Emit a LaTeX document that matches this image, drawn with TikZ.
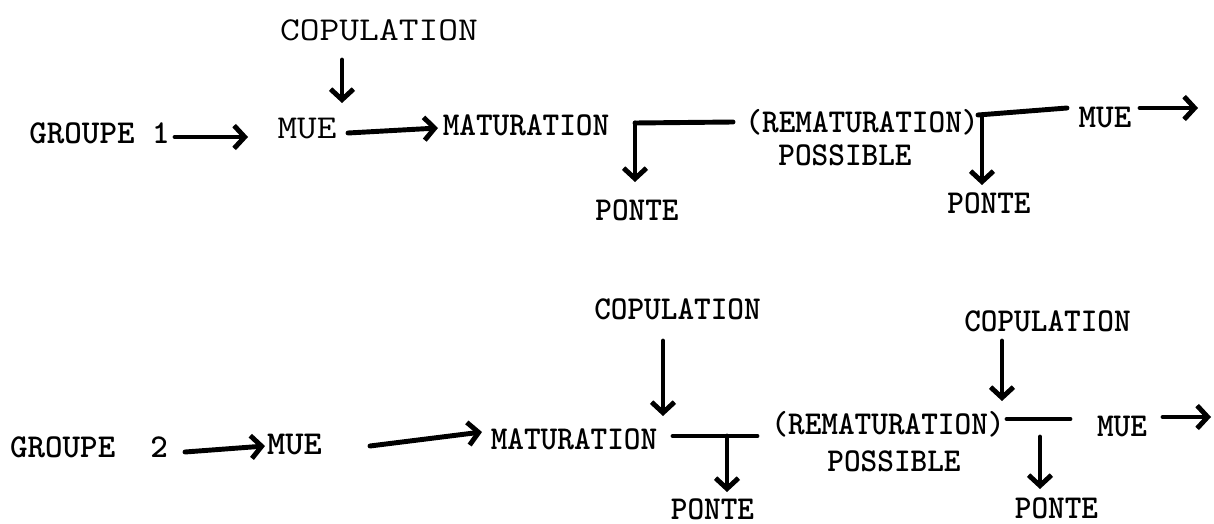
\documentclass[tikz,border=0pt]{standalone}
\usepackage{graphicx}
\usetikzlibrary{arrows.meta}
\newcommand{\tx}[2][0.95]{\scalebox{#1}[1]{#2}}
\begin{document}
\begin{tikzpicture}[x=0.02cm,y=-0.02cm,
  lab/.style={anchor=base,inner sep=0pt,font=\ttfamily\bfseries\fontsize{19}{20}\selectfont},
  labl/.style={lab,font=\ttfamily\fontsize{19}{20}\selectfont},
  arr/.style={line width=2.8pt,line cap=round,-{Straight Barb[length=6pt,width=13pt]}},
  ln/.style={line width=2.8pt,line cap=round,line join=round}]
\useasboundingbox (0,0) rectangle (1214,524);
% ---- row 1 ----
\node[labl] (cop1) at (379,40) {\tx[1.15]{COPULATION}};
\node[lab] (g1) at (99.5,143) {\tx[1.0]{GROUPE 1}};
\node[labl] (mue1) at (307,138) {\tx[1.14]{MUE}};
\node[lab] (mat1) at (526,135) {\tx{MATURATION}};
\node[lab] (rem1) at (862,132) {\tx{(REMATURATION)}};
\node[lab] (pos1) at (845,165) {\tx{POSSIBLE}};
\node[lab] (pon1a) at (637,220) {\tx{PONTE}};
\node[lab] (pon1b) at (989,213) {\tx{PONTE}};
\node[lab] (mue1b) at (1105,127) {\tx[1.0]{MUE}};
% ---- row 2 ----
\node[lab] (g2) at (89,457) {\tx[1.0]{GROUPE~~2}};
\node[lab] (mue2) at (294.5,454) {\tx[1.04]{MUE}};
\node[lab] (mat2) at (574,449) {\tx{MATURATION}};
\node[lab] (cop2a) at (677.5,319) {\tx{COPULATION}};
\node[lab] (rem2) at (888,434) {\tx{(REMATURATION)}};
\node[lab] (pos2) at (894,471) {\tx{POSSIBLE}};
\node[lab] (cop2b) at (1047.5,331) {\tx{COPULATION}};
\node[lab] (pon2a) at (712.5,519) {\tx{PONTE}};
\node[lab] (pon2b) at (1056.5,518) {\tx{PONTE}};
\node[lab] (mue2b) at (1122,436) {\tx{MUE}};
% ---- connector ends ----
\coordinate (g1o) at (175,137);   \coordinate (mue1i) at (248,137);
\coordinate (cop1o) at (342,60);  \coordinate (mue1t) at (342,103);
\coordinate (mue1o) at (348,133); \coordinate (mat1i) at (438,128);
\coordinate (rem1l) at (733,122); \coordinate (j1) at (635,123); \coordinate (pon1at) at (635,182);
\coordinate (rem1r) at (978,115); \coordinate (mue1bl) at (1067,108);
\coordinate (j2) at (982,116); \coordinate (pon1bt) at (982,185);
\coordinate (mue1bo) at (1140,108); \coordinate (end1) at (1198,108);
\coordinate (g2o) at (185,452);   \coordinate (mue2i) at (265,446);
\coordinate (mue2o) at (370,446); \coordinate (mat2i) at (482,432);
\coordinate (cop2ao) at (663,341); \coordinate (mat2t) at (663,416);
\coordinate (mat2r) at (673,436); \coordinate (rem2l) at (757,436);
\coordinate (j3) at (727,436); \coordinate (pon2at) at (727,492);
\coordinate (cop2bo) at (1002,341); \coordinate (rem2t) at (1002,401);
\coordinate (rem2r) at (1007,419); \coordinate (mue2bl) at (1070,419);
\coordinate (j4) at (1040,437); \coordinate (pon2bt) at (1040,489);
\coordinate (mue2bo) at (1163,417); \coordinate (end2) at (1211,417);
% ---- connectors row 1 ----
\draw[arr] (g1o) -- (mue1i);
\draw[arr] (cop1o) -- (mue1t);
\draw[arr] (mue1o) -- (mat1i);
\draw[ln] (rem1l) -- (j1);
\draw[arr] (j1) -- (pon1at);
\draw[ln] (rem1r) -- (mue1bl);
\draw[arr] (j2) -- (pon1bt);
\draw[arr] (mue1bo) -- (end1);
% ---- connectors row 2 ----
\draw[arr] (g2o) -- (mue2i);
\draw[arr] (mue2o) -- (mat2i);
\draw[arr] (cop2ao) -- (mat2t);
\draw[ln] (mat2r) -- (rem2l);
\draw[arr] (j3) -- (pon2at);
\draw[arr] (cop2bo) -- (rem2t);
\draw[ln] (rem2r) -- (mue2bl);
\draw[arr] (j4) -- (pon2bt);
\draw[arr] (mue2bo) -- (end2);
\end{tikzpicture}
\end{document}
